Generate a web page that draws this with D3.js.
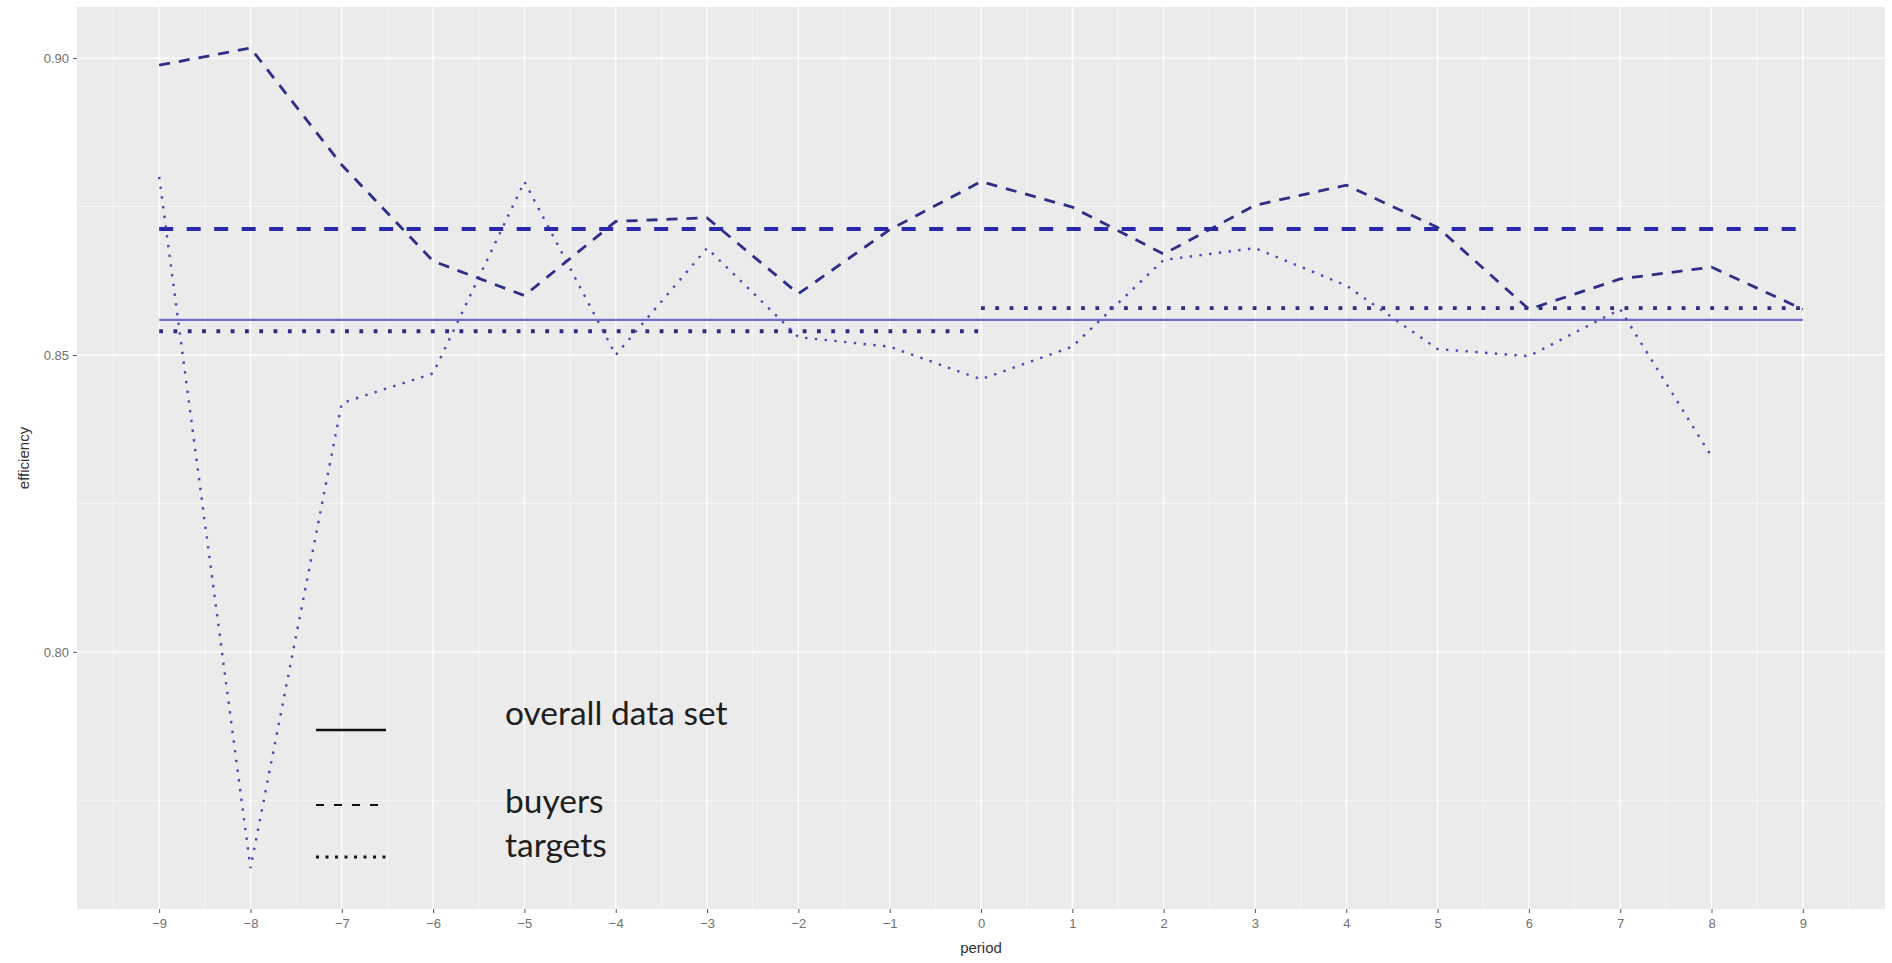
<!DOCTYPE html>
<html>
<head>
<meta charset="utf-8">
<script src="https://cdn.jsdelivr.net/npm/d3@7"></script>
<style>
  html, body { margin: 0; padding: 0; background: #ffffff; }
  svg { display: block; }
</style>
</head>
<body>
<svg id="chart" width="1892" height="963"></svg>
<script>
// ---- data ----
const periods = [-9,-8,-7,-6,-5,-4,-3,-2,-1,0,1,2,3,4,5,6,7,8,9];
const buyers  = [0.8988,0.9017,0.8820,0.8658,0.8600,0.8725,0.8731,0.8603,0.8711,0.8792,0.8749,0.8670,0.8752,0.8786,0.8715,0.8577,0.8628,0.8648,0.8577];
const targetPeriods = [-9,-8,-7,-6,-5,-4,-3,-2,-1,0,1,2,3,4,5,6,7,8];
const targets = [0.8800,0.7636,0.8419,0.8469,0.8792,0.8500,0.8680,0.8530,0.8514,0.8459,0.8514,0.8660,0.8680,0.8617,0.8510,0.8498,0.8577,0.8329];
const overallMean = {from: -9, to: 9, value: 0.8559};
const buyersMean  = {from: -9, to: 9, value: 0.8712};
const targetsMeanPre  = {from: -9, to: 0, value: 0.8540};
const targetsMeanPost = {from: 0, to: 9, value: 0.8579};
const yTicks = [0.80, 0.85, 0.90];
const yMinor = [0.775, 0.825, 0.875];
const xTicks = periods;
const legendItems = ["overall data set", "buyers", "targets"];
const xTitle = "period";
const yTitle = "efficiency";

// ---- layout ----
const svg = d3.select("#chart");
const panel = {left: 77, right: 1885, top: 7, bottom: 909};

const allY = buyers.concat(targets);
const yMin = d3.min(allY), yMax = d3.max(allY);
const yPad = (yMax - yMin) * 0.05;
const x = d3.scaleLinear().domain([-9 - 0.9, 9 + 0.9]).range([panel.left, panel.right]);
const y = d3.scaleLinear().domain([yMin - yPad, yMax + yPad]).range([panel.bottom, panel.top]);

// panel background
svg.append("rect")
  .attr("x", panel.left).attr("y", panel.top)
  .attr("width", panel.right - panel.left).attr("height", panel.bottom - panel.top)
  .attr("fill", "#ebebeb");

const grid = svg.append("g");
// minor grid
const xMinor = d3.range(-9.5, 10, 1);
grid.selectAll(".xminor").data(xMinor).join("line")
  .attr("x1", d => x(d)).attr("x2", d => x(d))
  .attr("y1", panel.top).attr("y2", panel.bottom)
  .attr("stroke", "#f7f7f7").attr("stroke-width", 0.8);
grid.selectAll(".yminor").data(yMinor).join("line")
  .attr("y1", d => y(d)).attr("y2", d => y(d))
  .attr("x1", panel.left).attr("x2", panel.right)
  .attr("stroke", "#f7f7f7").attr("stroke-width", 0.8);
// major grid
grid.selectAll(".xmajor").data(xTicks).join("line")
  .attr("x1", d => x(d)).attr("x2", d => x(d))
  .attr("y1", panel.top).attr("y2", panel.bottom)
  .attr("stroke", "#ffffff").attr("stroke-width", 1.3);
grid.selectAll(".ymajor").data(yTicks).join("line")
  .attr("y1", d => y(d)).attr("y2", d => y(d))
  .attr("x1", panel.left).attr("x2", panel.right)
  .attr("stroke", "#ffffff").attr("stroke-width", 1.3);

// axes
const xAxis = d3.axisBottom(x).tickValues(xTicks).tickFormat(d3.format("d")).tickSize(4).tickPadding(6);
const yAxis = d3.axisLeft(y).tickValues(yTicks).tickFormat(d3.format(".2f")).tickSize(4).tickPadding(4);
const gx = svg.append("g").attr("transform", `translate(0,${panel.bottom})`).call(xAxis);
const gy = svg.append("g").attr("transform", `translate(${panel.left},0)`).call(yAxis);
[gx, gy].forEach(g => {
  g.select(".domain").remove();
  g.selectAll(".tick line").attr("stroke", "#555").attr("stroke-width", 1);
  g.selectAll(".tick text").attr("fill", "#707070")
    .style("font-family", "'Liberation Sans', Arial, sans-serif").style("font-size", "13px");
});

// titles
svg.append("text").text(xTitle)
  .attr("x", x(0)).attr("y", 953).attr("text-anchor", "middle")
  .attr("fill", "#333").style("font-family", "'Liberation Sans', Arial, sans-serif").style("font-size", "15px");
svg.append("text").text(yTitle)
  .attr("transform", `translate(29,${(panel.top + panel.bottom) / 2}) rotate(-90)`)
  .attr("text-anchor", "middle")
  .attr("fill", "#333").style("font-family", "'Liberation Sans', Arial, sans-serif").style("font-size", "15px");

const line = d3.line().x(d => x(d[0])).y(d => y(d[1]));
const hline = m => [[m.from, m.value], [m.to, m.value]];

const marks = svg.append("g");
// overall mean (solid)
marks.append("path").datum(hline(overallMean)).attr("d", line)
  .attr("fill", "none").attr("stroke", "#6e6ec8").attr("stroke-width", 2.2);
// targets means (thick dotted)
[targetsMeanPre, targetsMeanPost].forEach(m => {
  marks.append("path").datum(hline(m)).attr("d", line)
    .attr("fill", "none").attr("stroke", "#2d2d80").attr("stroke-width", 3.8)
    .attr("stroke-dasharray", "3.8,10.5");
});
// buyers mean (thick dashed)
marks.append("path").datum(hline(buyersMean)).attr("d", line)
  .attr("fill", "none").attr("stroke", "#2828a8").attr("stroke-width", 4)
  .attr("stroke-dasharray", "14,13.5");
// targets series (thin dotted)
marks.append("path").datum(targetPeriods.map((p, i) => [p, targets[i]])).attr("d", line)
  .attr("fill", "none").attr("stroke", "#4848b4").attr("stroke-width", 2.4)
  .attr("stroke-dasharray", "2.4,7.4");
// buyers series (dashed)
marks.append("path").datum(periods.map((p, i) => [p, buyers[i]])).attr("d", line)
  .attr("fill", "none").attr("stroke", "#2e2e88").attr("stroke-width", 2.8)
  .attr("stroke-dasharray", "11,9");

// legend (overlay)
const leg = svg.append("g");
const legFont = "Lato, 'Open Sans', sans-serif";
const legRows = [
  {label: legendItems[0], lineY: 730, textY: 725, dash: null, w: 2.4},
  {label: legendItems[1], lineY: 805, textY: 813, dash: "8,10", w: 2},
  {label: legendItems[2], lineY: 857, textY: 857, dash: "3,6.5", w: 3}
];
legRows.forEach(r => {
  const l = leg.append("line").attr("x1", 316).attr("x2", 386)
    .attr("y1", r.lineY).attr("y2", r.lineY)
    .attr("stroke", "#111").attr("stroke-width", r.w);
  if (r.dash) l.attr("stroke-dasharray", r.dash);
  leg.append("text").text(r.label).attr("x", 505).attr("y", r.textY)
    .attr("fill", "#1e1e1e").style("font-family", legFont).style("font-size", "33.5px");
});
</script>
</body>
</html>
